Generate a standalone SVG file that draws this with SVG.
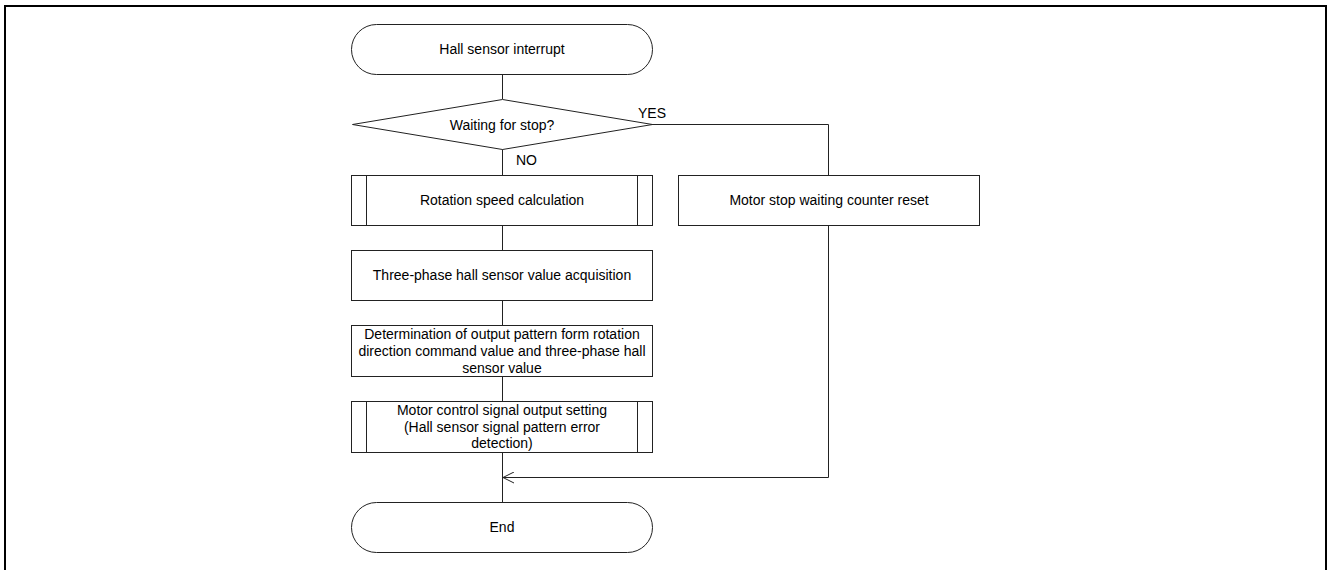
<svg xmlns="http://www.w3.org/2000/svg" width="1328" height="570" viewBox="0 0 1328 570">
<style>
.box{fill:#fff;stroke:#222;stroke-width:1}
.ln{fill:none;stroke:#222;stroke-width:1}
text{font-family:"Liberation Sans",Arial,sans-serif;font-size:14px;fill:#000;text-anchor:middle}
.lbl{text-anchor:start}
</style>
<defs>
<marker id="open" viewBox="0 0 12 12" refX="11" refY="6" markerWidth="12" markerHeight="12" markerUnits="userSpaceOnUse" orient="auto">
<path d="M0,0.5 L11,6 L0,11.5" fill="none" stroke="#222" stroke-width="1"/>
</marker>
</defs>
<rect x="5" y="6" width="1321" height="600" fill="#fff" stroke="#000" stroke-width="2"/>
<g id="connectors">
<path class="ln" d="M502.5,74 V99"/>
<path class="ln" d="M502.5,149 V175"/>
<path class="ln" d="M502.5,225 V250"/>
<path class="ln" d="M502.5,300 V325"/>
<path class="ln" d="M502.5,376 V401"/>
<path class="ln" d="M502.5,452 V502"/>
<path class="ln" d="M652,124.5 H828.5 V175"/>
<path class="ln" d="M828.5,225 V477.5 H503" marker-end="url(#open)"/>
<text class="lbl" x="638" y="118">YES</text>
<text class="lbl" x="516" y="165">NO</text>
</g>
<g id="start">
<rect class="box" x="351.5" y="24.5" width="301" height="50" rx="25" ry="25"/>
<text x="502" y="54">Hall sensor interrupt</text>
</g>
<g id="decision">
<polygon class="box" points="502.5,99.5 652.5,124.5 502.5,149.5 352.5,124.5"/>
<text x="502" y="130">Waiting for stop?</text>
</g>
<g id="rotation">
<rect class="box" x="351.5" y="175.5" width="301" height="50"/>
<path class="ln" d="M366.5,175.5 V225.5 M637.5,175.5 V225.5"/>
<text x="502" y="205">Rotation speed calculation</text>
</g>
<g id="reset">
<rect class="box" x="678.5" y="175.5" width="301" height="50"/>
<text x="829" y="205">Motor stop waiting counter reset</text>
</g>
<g id="acquire">
<rect class="box" x="351.5" y="250.5" width="301" height="50"/>
<text x="502" y="280">Three-phase hall sensor value acquisition</text>
</g>
<g id="determine">
<rect class="box" x="351.5" y="325.5" width="301" height="51"/>
<text x="502" y="339">Determination of output pattern form rotation</text>
<text x="502" y="356">direction command value and three-phase hall</text>
<text x="502" y="373">sensor value</text>
</g>
<g id="output">
<rect class="box" x="351.5" y="401.5" width="301" height="51"/>
<path class="ln" d="M366.5,401.5 V452.5 M637.5,401.5 V452.5"/>
<text x="502" y="415">Motor control signal output setting</text>
<text x="502" y="432">(Hall sensor signal pattern error</text>
<text x="502" y="448">detection)</text>
</g>
<g id="end">
<rect class="box" x="351.5" y="502.5" width="301" height="50" rx="25" ry="25"/>
<text x="502" y="532">End</text>
</g>
</svg>
